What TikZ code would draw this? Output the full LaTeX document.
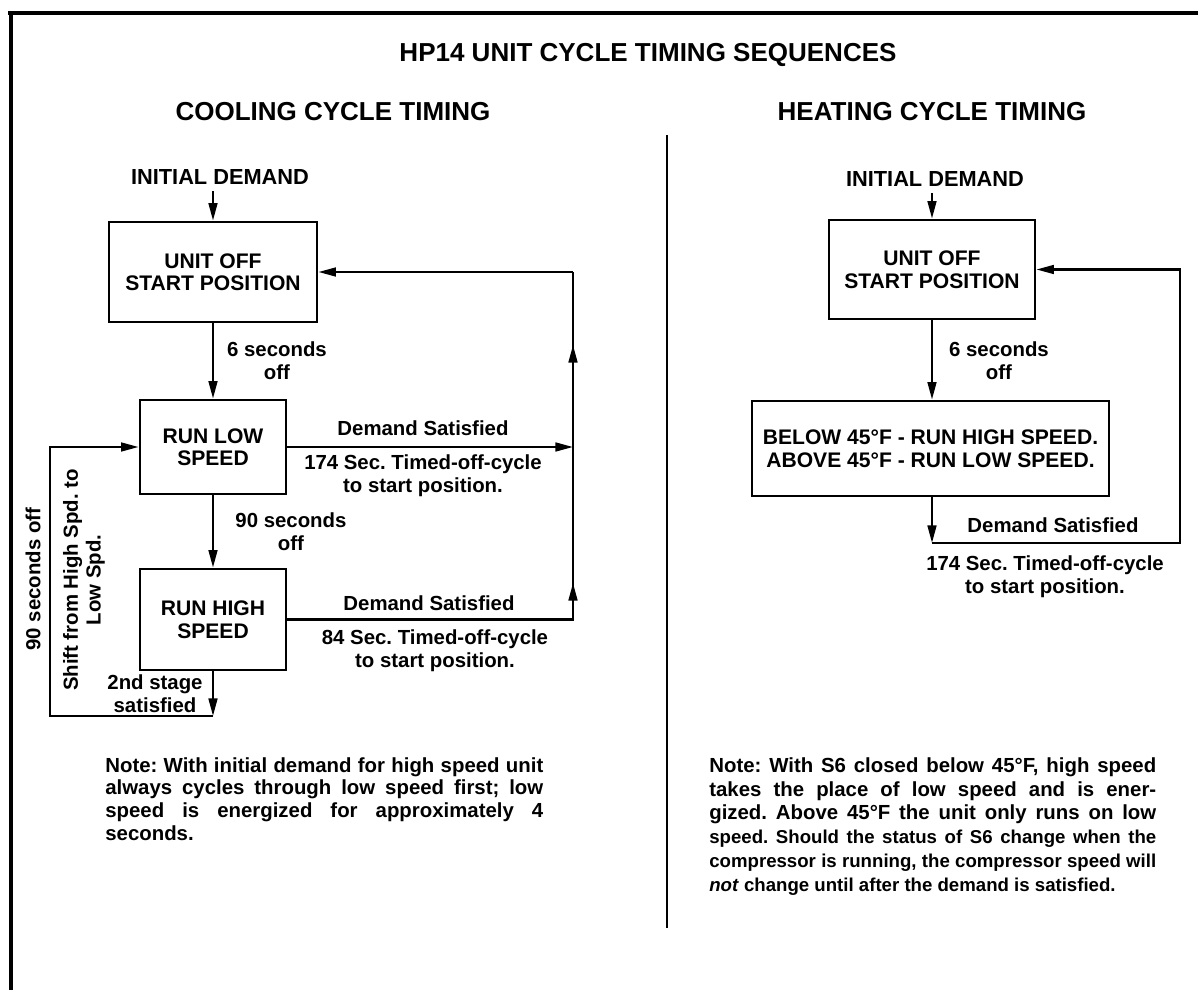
\documentclass[tikz,border=0pt]{standalone}
\usepackage{fontspec}
\setmainfont{Liberation Sans}
\usetikzlibrary{arrows.meta}

\begin{document}
\frenchspacing
\begin{tikzpicture}[x=0.02cm, y=-0.02cm,
    box/.style={draw, line width=1.6pt, inner sep=0pt, align=center, font=\bfseries\fontsize{12}{12.8}\selectfont},
    lbl/.style={inner sep=0pt, align=center, font=\bfseries\fontsize{11.6}{13}\selectfont},
    head/.style={inner sep=0pt, font=\bfseries\fontsize{14.8}{17}\selectfont},
    note/.style={inner sep=0pt, anchor=north west, align=justify},
    conn/.style={line width=1.3pt},
    tip/.style={-{Triangle[length=10pt,width=5pt]}}]

    % パラメータの定義
    \pgfmathsetmacro{\xC}{213}
    \pgfmathsetmacro{\xH}{932}
    \pgfmathsetmacro{\xR}{573}
    \pgfmathsetmacro{\xL}{50}
    \pgfmathsetmacro{\xHR}{1180}

    \useasboundingbox (0,0) rectangle (1198,990);

    % 枠の描画
    \draw [line width=1.8pt] (8,13) -- (1198,13);
    \draw [line width=2.4pt] (11,13) -- (11,990);
    \draw [line width=1.6pt] (667,135) -- (667,928);

    % 見出し
    \node[head] (T)  at (648,55)  {HP14 UNIT CYCLE TIMING SEQUENCES};
    \node[head] (TC) at (333,112) {COOLING CYCLE TIMING};
    \node[head] (TH) at (932,112) {HEATING CYCLE TIMING};

    % 冷房サイクル
    \node[lbl, font=\bfseries\fontsize{12.4}{14}\selectfont] (IDc) at (220,177) {INITIAL DEMAND};
    \node[box, minimum width=4.16cm, minimum height=2cm]   (OFFc)  at (\xC,272)   {UNIT OFF\\START POSITION};
    \node[box, minimum width=2.92cm, minimum height=1.88cm] (LOWc)  at (\xC,447)   {RUN LOW\\SPEED};
    \node[box, minimum width=2.92cm, minimum height=2.02cm] (HIGHc) at (\xC,619.5) {RUN HIGH\\SPEED};

    \node[lbl] (S6c)  at (277,361) {6 seconds\\off};
    \node[lbl] (S90c) at (291,532) {90 seconds\\off};
    \node[lbl] (D1)   at (423,428) {Demand Satisfied};
    \node[lbl] (T1)   at (423,475.5) {174 Sec. Timed-off-cycle\\to start position.};
    \node[lbl] (D2)   at (429,603) {Demand Satisfied};
    \node[lbl] (T2)   at (435,650.5) {84 Sec. Timed-off-cycle\\to start position.};
    \node[lbl] (ST)   at (155,693.5) {2nd stage\\satisfied};
    \node[lbl, rotate=90] (B90) at (33,579) {90 seconds off};
    \node[lbl, rotate=90] (SH)  at (84,580) {Shift from High Spd. to\\Low Spd.};

    % 点の定義
    \coordinate (R1) at (\xR,619.5);
    \coordinate (R2) at (\xR,447);
    \coordinate (R3) at (\xR,272);
    \coordinate (A1) at (\xR,583);
    \coordinate (A2) at (\xR,345);
    \coordinate (C2) at (\xC,716);
    \coordinate (CL) at (\xL,716);

    % 線分の描画
    \draw [conn, tip] (IDc.south -| OFFc.north) ++(0,6) -- (OFFc.north);
    \draw [conn, tip] (OFFc) -- (LOWc);
    \draw [conn, tip] (LOWc) -- (HIGHc);
    \draw [conn, tip] (LOWc.east) -- (R2);
    \draw [conn] (HIGHc.east) -- (R1) -- (R3);
    \draw [conn, tip] (R1) -- (A1);
    \draw [conn, tip] (R2) -- (A2);
    \draw [conn, tip] (R3) -- (OFFc.east);
    \draw [conn, tip] (HIGHc) -- (C2);
    \draw [conn, tip] (C2) -- (CL) |- (LOWc.west);

    % 暖房サイクル
    \node[lbl, font=\bfseries\fontsize{12.4}{14}\selectfont] (IDh) at (935,179) {INITIAL DEMAND};
    \node[box, minimum width=4.12cm, minimum height=1.98cm] (OFFh) at (\xH,269.5) {UNIT OFF\\START POSITION};
    \node[box, minimum width=7.14cm, minimum height=1.9cm]  (RUNh) at (930.5,448.5)
        {BELOW 45°F - RUN HIGH SPEED.\\ABOVE 45°F - RUN LOW SPEED.};

    \node[lbl] (S6h) at (999,361)   {6 seconds\\off};
    \node[lbl] (D3)  at (1053,525)  {Demand Satisfied};
    \node[lbl] (T3)  at (1045,576.5) {174 Sec. Timed-off-cycle\\to start position.};

    \coordinate (H1) at (\xH,543);
    \coordinate (H2) at (\xHR,543);

    \draw [conn, tip] (IDh.south -| OFFh.north) ++(0,6) -- (OFFh.north);
    \draw [conn, tip] (OFFh) -- (OFFh |- RUNh.north);
    \draw [conn, tip] (RUNh.south -| H1) -- (H1);
    \draw [conn, tip] (H1) -- (H2) |- (OFFh.east);

    % 注記
    \node[note, text width=8.76cm, font=\bfseries\fontsize{11.6}{13}\selectfont] (NC) at (105,757)
        {Note: With initial demand for high speed unit\linebreak
         always cycles through low speed first; low\linebreak
         speed is energized for approximately 4\linebreak
         seconds.};
    \node[note, text width=8.94cm, font=\bfseries\fontsize{11.6}{13.6}\selectfont] (NH) at (709,757)
        {Note: With S6 closed below 45°F, high speed\linebreak
         takes the place of low speed and is ener-\linebreak
         gized. Above 45°F the unit only runs on low\linebreak
         {\fontsize{10.6}{13.6}\selectfont speed. Should the status of S6 change when the\linebreak
         compressor is running, the compressor speed will\linebreak
         \textit{not} change until after the demand is satisfied.}};

\end{tikzpicture}
\end{document}
